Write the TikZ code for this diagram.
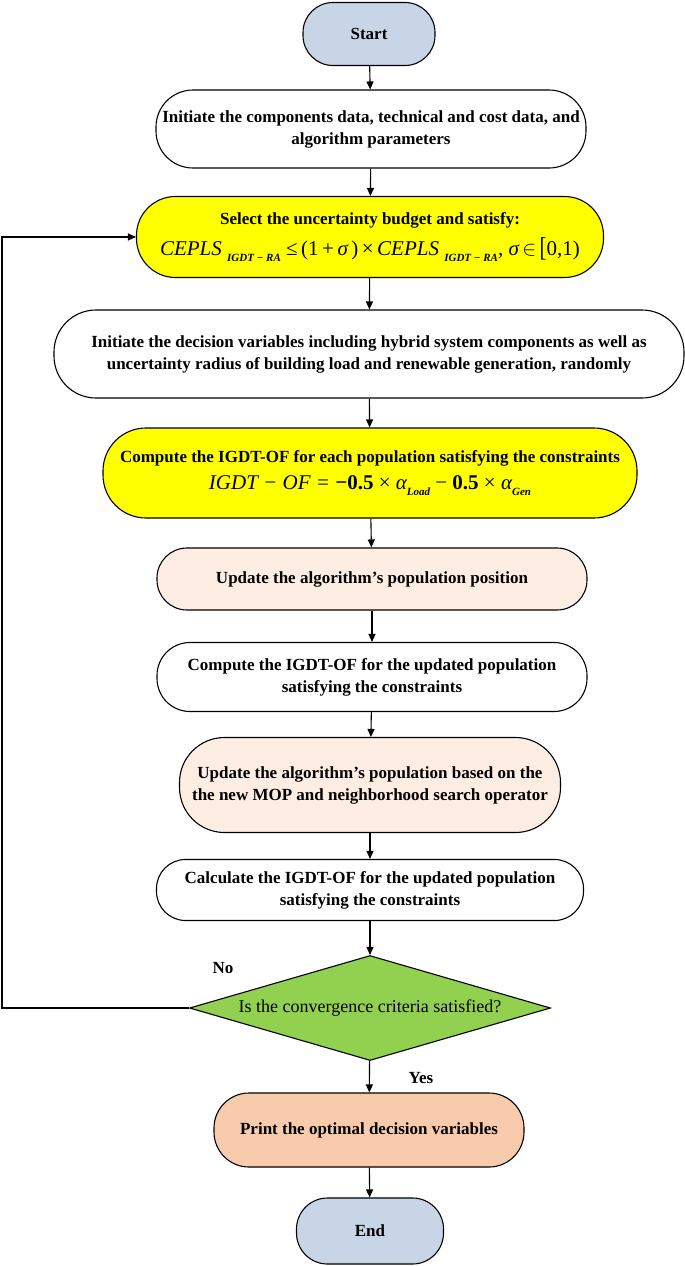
\documentclass[tikz,border=0pt]{standalone}
\usepackage{fontspec}
\setmainfont{Liberation Serif}
\usetikzlibrary{shapes.geometric,arrows.meta}
\definecolor{termblue}{HTML}{C8D5E6}
\definecolor{procyellow}{HTML}{FFFF00}
\definecolor{lightpeach}{HTML}{FDEDE3}
\definecolor{peach}{HTML}{F8CBAD}
\definecolor{decgreen}{HTML}{92D050}
\newcommand\fsub[1]{\raisebox{-0.55ex}{\fontsize{11}{11}\selectfont\itshape\bfseries #1}}
\begin{document}
\begin{tikzpicture}[x=1pt,y=-1pt,
  proc/.style={draw, line width=1.1pt, align=center, inner sep=0pt,
    font=\fontsize{17}{22}\selectfont\bfseries},
  term/.style={proc, fill=termblue},
  decision/.style={draw, line width=1.1pt, diamond, aspect=3.4, inner sep=0pt,
    fill=decgreen, align=center, font=\fontsize{18}{22}\selectfont},
  flow/.style={line width=1.1pt, -{Triangle[length=8pt,width=7pt]}},
  lbl/.style={font=\fontsize{17}{22}\selectfont\bfseries, inner sep=0pt}]
\useasboundingbox (0,0) rectangle (685,1266);

\node[term, minimum width=132pt, minimum height=63pt, rounded corners=30pt] (start) at (369,34) {Start};

\node[proc, minimum width=430pt, minimum height=78pt, rounded corners=37pt] (b1) at (371,129)
  {Initiate the components data, technical and cost data, and\\algorithm parameters};

\node[proc, fill=procyellow, minimum width=467pt, minimum height=81pt, rounded corners=39pt] (b2) at (370,237)
  {Select the uncertainty budget and satisfy:\\[9pt]
   {\fontsize{21}{24}\selectfont\mdseries\itshape CEPLS\ \fsub{IGDT − RA}\ \upshape ≤\,(1\,+\,\itshape σ\upshape\,)\,×\,\itshape CEPLS\ \fsub{IGDT − RA}\upshape,\ \itshape σ\upshape\,$\in$\,\raisebox{-0.12ex}{\scalebox{1}[1.3]{[}}0,1)}};

\node[proc, minimum width=630pt, minimum height=88pt, rounded corners=42pt] (b3) at (369,354)
  {Initiate the decision variables including hybrid system components as well as\\uncertainty radius of building load and renewable generation, randomly};

\node[proc, fill=procyellow, minimum width=534pt, minimum height=90pt, rounded corners=43pt] (b4) at (370,473)
  {Compute the IGDT-OF for each population satisfying the constraints\\[5pt]
   {\fontsize{21}{24}\selectfont\mdseries\itshape IGDT − OF = \upshape\bfseries −0.5 \mdseries× \itshape α\fsub{Load} \upshape− \bfseries 0.5 \mdseries× \itshape α\fsub{Gen}}};

\node[proc, fill=lightpeach, minimum width=430pt, minimum height=62pt, rounded corners=30pt] (b5) at (372,579)
  {Update the algorithm’s population position};

\node[proc, minimum width=430pt, minimum height=69pt, rounded corners=33pt] (b6) at (372,677)
  {Compute the IGDT-OF for the updated population\\satisfying the constraints};

\node[proc, fill=lightpeach, minimum width=381pt, minimum height=95pt, rounded corners=45pt] (b7) at (370,785)
  {Update the algorithm’s population based on the\\the new MOP and neighborhood search operator};

\node[proc, minimum width=427pt, minimum height=61pt, rounded corners=29pt] (b8) at (370,890)
  {Calculate the IGDT-OF for the updated population\\satisfying the constraints};

\node[decision, minimum width=361pt, minimum height=105pt] (dia) at (370,1008)
  {Is the convergence criteria satisfied?};

\node[proc, fill=peach, minimum width=310pt, minimum height=74pt, rounded corners=35pt] (b9) at (369,1130)
  {Print the optimal decision variables};

\node[term, minimum width=147pt, minimum height=66pt, rounded corners=31pt] (end) at (370,1231) {End};

\node[lbl] (no) at (223,968) {No};
\node[lbl] (yes) at (421,1078) {Yes};

\coordinate (loopc) at (2,1008);

\draw[flow] (start) -- (b1);
\draw[flow] (b1) -- (b2);
\draw[flow] (b2) -- (b3);
\draw[flow] (b3) -- (b4);
\draw[flow] (b4) -- (b5);
\draw[flow] (b5) -- (b6);
\draw[flow] (b6) -- (b7);
\draw[flow] (b7) -- (b8);
\draw[flow] (b8) -- (dia);
\draw[flow] (dia) -- (b9);
\draw[flow] (b9) -- (end);
\draw[flow] (dia.west) -- (loopc) |- (b2.west);
\end{tikzpicture}
\end{document}
